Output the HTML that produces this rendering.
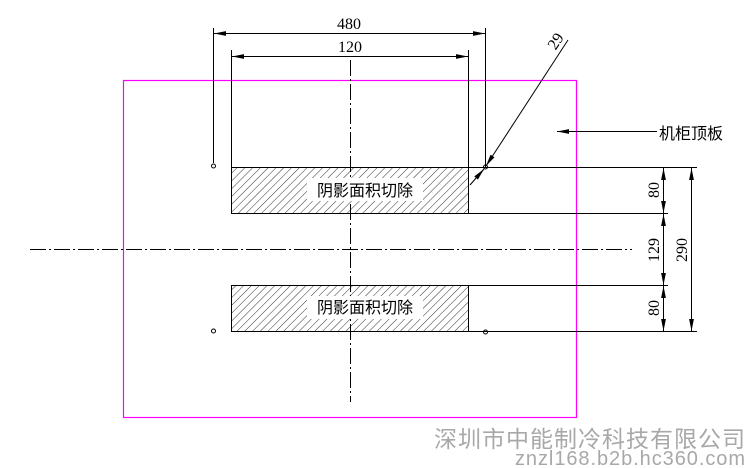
<!DOCTYPE html>
<html><head><meta charset="utf-8"><style>
html,body{margin:0;padding:0;background:#fff;}
svg{display:block;}
</style></head><body>
<svg width="750" height="468" viewBox="0 0 750 468" xmlns="http://www.w3.org/2000/svg">
<defs>
<pattern id="h" width="5.5" height="5.5" patternUnits="userSpaceOnUse" patternTransform="rotate(45)">
<line x1="0" y1="0" x2="0" y2="5.5" stroke="#000" stroke-width="0.8"/>
</pattern>
<marker id="a" viewBox="0 0 10 4" refX="10" refY="2" markerWidth="12" markerHeight="5" markerUnits="userSpaceOnUse" orient="auto-start-reverse"><path d="M0,0L10,2L0,4z" fill="#000"/></marker>
</defs>
<g stroke="#000" stroke-width="1" fill="none">
<rect x="123.5" y="80.5" width="453" height="337" stroke="#f0f" stroke-width="1.2"/>
<line x1="350.5" y1="60" x2="350.5" y2="402" stroke-dasharray="16,3,2,3"/>
<line x1="30" y1="249.5" x2="632" y2="249.5" stroke-dasharray="16,3,2,3"/>
<rect x="231.5" y="167.5" width="237" height="46" fill="url(#h)"/>
<rect x="231.5" y="285.5" width="237" height="46" fill="url(#h)"/>
<rect x="307" y="178" width="116" height="23" fill="#fff" stroke="none"/>
<rect x="307" y="296" width="116" height="23" fill="#fff" stroke="none"/>
<line x1="468" y1="167.5" x2="697" y2="167.5"/>
<line x1="468" y1="213.5" x2="668" y2="213.5"/>
<line x1="468" y1="285.5" x2="668" y2="285.5"/>
<line x1="231" y1="331.5" x2="697" y2="331.5"/>
<line x1="213.5" y1="28" x2="213.5" y2="163"/>
<line x1="485.5" y1="28" x2="485.5" y2="167"/>
<line x1="231.5" y1="50" x2="231.5" y2="167"/>
<line x1="468.5" y1="50" x2="468.5" y2="167"/>
<circle cx="213.5" cy="166" r="2"/>
<circle cx="485.5" cy="167" r="2"/>
<circle cx="213.5" cy="331" r="2"/>
<circle cx="485.5" cy="332" r="2"/>
<line x1="214" y1="33.5" x2="485" y2="33.5" marker-start="url(#a)" marker-end="url(#a)"/>
<line x1="232" y1="56.5" x2="468" y2="56.5" marker-start="url(#a)" marker-end="url(#a)"/>
<line x1="568" y1="40" x2="486" y2="166" marker-end="url(#a)"/>
<line x1="470" y1="185" x2="484" y2="169" marker-end="url(#a)"/>
<line x1="663.5" y1="168" x2="663.5" y2="213" marker-start="url(#a)" marker-end="url(#a)"/>
<line x1="663.5" y1="214" x2="663.5" y2="285" marker-start="url(#a)" marker-end="url(#a)"/>
<line x1="663.5" y1="286" x2="663.5" y2="331" marker-start="url(#a)" marker-end="url(#a)"/>
<line x1="691.5" y1="168" x2="691.5" y2="331" marker-start="url(#a)" marker-end="url(#a)"/>
<line x1="657" y1="131.5" x2="557" y2="131.5" marker-end="url(#a)"/>
</g>
<g font-family="Liberation Serif, serif" font-size="16" fill="#000">
<text x="349" y="29" text-anchor="middle">480</text>
<text x="350" y="52" text-anchor="middle">120</text>
<text transform="translate(560,44) rotate(-57)" text-anchor="middle">29</text>
<text transform="translate(659,190) rotate(-90)" text-anchor="middle">80</text>
<text transform="translate(659,250) rotate(-90)" text-anchor="middle">129</text>
<text transform="translate(659,308) rotate(-90)" text-anchor="middle">80</text>
<text transform="translate(687,250) rotate(-90)" text-anchor="middle">290</text>
</g>
<g font-family="Liberation Sans, Noto Sans CJK SC, sans-serif" font-size="16" fill="#000">
<text x="365" y="196" text-anchor="middle">阴影面积切除</text>
<text x="365" y="313" text-anchor="middle">阴影面积切除</text>
<text x="659" y="139">机柜顶板</text>
</g>
<g font-family="Liberation Sans, Noto Sans CJK SC, sans-serif" fill="#a8a8a8">
<text x="745" y="447" font-size="23" text-anchor="end" textLength="311">深圳市中能制冷科技有限公司</text>
<text x="745" y="465" font-size="20" text-anchor="end" textLength="230">znzl168.b2b.hc360.com</text>
</g>
</svg>
</body></html>
